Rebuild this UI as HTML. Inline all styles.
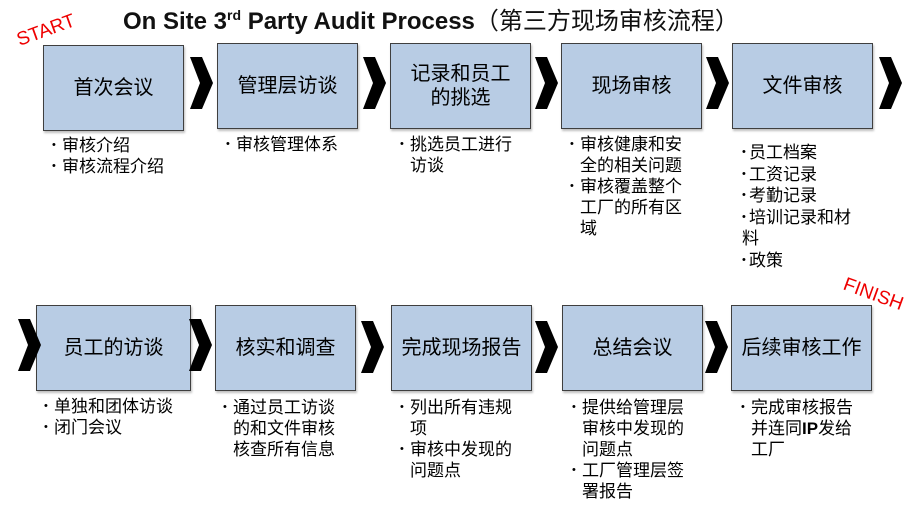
<!DOCTYPE html>
<html><head><meta charset="utf-8"><style>
body{margin:0;width:912px;height:515px;background:#fff;position:relative;overflow:hidden;font-family:"Liberation Sans","Noto Sans CJK SC",sans-serif;}
.b{position:absolute;background:#b8cce4;border:1.5px solid #3f3f3f;box-sizing:border-box;display:flex;align-items:center;justify-content:center;text-align:center;font-size:20px;line-height:24px;color:#000;box-shadow:1px 2px 2px rgba(0,0,0,.25);}
.c{position:absolute;width:23px;height:52px;}
.l{position:absolute;font-size:17px;line-height:21px;color:#000;}
.l div{position:relative;padding-left:10px;}
.l div::before{content:"•";position:absolute;left:0;top:0;font-size:11px;line-height:21px;}
.l div.s{padding-left:7px;}
.l div.w{padding-left:0;}
.l div.w::before{content:none;}
.bu{font-size:11px;display:inline-block;width:7px;vertical-align:top;line-height:21.5px;}
.t{position:absolute;left:123px;top:1px;font-size:24px;font-weight:bold;color:#111;white-space:nowrap;}
.t sup{font-size:14px;}
.r{position:absolute;color:#e00;font-size:19px;}
</style></head><body>
<div class="t">On Site 3<sup>rd</sup> Party Audit Process<span style="font-weight:normal">（第三方现场审核流程）</span></div>
<div class="r" style="left:16px;top:20px;transform:rotate(-20deg);">START</div>
<div class="r" style="left:842px;top:284px;transform:rotate(20deg);">FINISH</div>

<svg width="0" height="0" style="position:absolute"><defs><polygon id="ch" points="0,0 12,0 23,26 12,52 0,52 10,26" fill="#000"/></defs></svg>

<div class="b" style="left:43px;top:45px;width:141px;height:86px;">首次会议</div>
<div class="b" style="left:217px;top:43px;width:141px;height:86px;">管理层访谈</div>
<div class="b" style="left:390px;top:43px;width:141px;height:86px;">记录和员工<br>的挑选</div>
<div class="b" style="left:561px;top:43px;width:141px;height:86px;">现场审核</div>
<div class="b" style="left:732px;top:43px;width:141px;height:86px;">文件审核</div>

<svg class="c" style="left:190px;top:57px"><use href="#ch"/></svg>
<svg class="c" style="left:363px;top:57px"><use href="#ch"/></svg>
<svg class="c" style="left:535px;top:57px"><use href="#ch"/></svg>
<svg class="c" style="left:706px;top:57px"><use href="#ch"/></svg>
<svg class="c" style="left:879px;top:57px"><use href="#ch"/></svg>

<div class="l" style="left:52px;top:135px;"><div>审核介绍</div><div>审核流程介绍</div></div>
<div class="l" style="left:226px;top:134px;"><div>审核管理体系</div></div>
<div class="l" style="left:400px;top:134px;width:115px;"><div>挑选员工进行访谈</div></div>
<div class="l" style="left:570px;top:134px;width:115px;"><div>审核健康和安全的相关问题</div><div>审核覆盖整个工厂的所有区域</div></div>
<div class="l" style="left:742px;top:142px;width:112px;line-height:21.5px;"><div class="s">员工档案</div><div class="s">工资记录</div><div class="s">考勤记录</div><div class="w"><span class="bu">•</span>培训记录和材料</div><div class="s">政策</div></div>

<div class="b" style="left:36px;top:305px;width:155px;height:86px;">员工的访谈</div>
<div class="b" style="left:215px;top:305px;width:141px;height:86px;">核实和调查</div>
<div class="b" style="left:391px;top:305px;width:141px;height:86px;">完成现场报告</div>
<div class="b" style="left:562px;top:305px;width:141px;height:86px;">总结会议</div>
<div class="b" style="left:731px;top:305px;width:141px;height:86px;">后续审核工作</div>

<svg class="c" style="left:18px;top:319px"><use href="#ch"/></svg>
<svg class="c" style="left:189px;top:319px"><use href="#ch"/></svg>
<svg class="c" style="left:361px;top:321px"><use href="#ch"/></svg>
<svg class="c" style="left:535px;top:321px"><use href="#ch"/></svg>
<svg class="c" style="left:705px;top:321px"><use href="#ch"/></svg>

<div class="l" style="left:44px;top:396px;width:140px;"><div>单独和团体访谈</div><div>闭门会议</div></div>
<div class="l" style="left:223px;top:397px;width:115px;"><div>通过员工访谈的和文件审核核查所有信息</div></div>
<div class="l" style="left:400px;top:397px;width:115px;"><div>列出所有违规项</div><div>审核中发现的问题点</div></div>
<div class="l" style="left:572px;top:397px;width:115px;"><div>提供给管理层审核中发现的问题点</div><div>工厂管理层签署报告</div></div>
<div class="l" style="left:741px;top:397px;width:115px;"><div>完成审核报告并连同<b>IP</b>发给工厂</div></div>
</body></html>
